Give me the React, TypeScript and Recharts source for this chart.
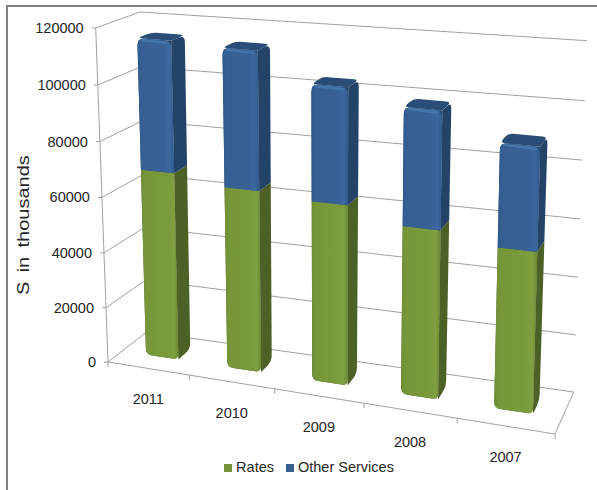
import React from 'react';
import { BarChart, Bar, XAxis, YAxis, CartesianGrid, Legend } from 'recharts';

const years = ['2011', '2010', '2009', '2008', '2007'];
const rates = [68000, 65000, 63500, 58500, 55000];
const otherServices = [47000, 49000, 40500, 40500, 35000];
const valueTicks = [0, 20000, 40000, 60000, 80000, 100000, 120000];

const chartData = years.map((year, i) => ({ year, rates: rates[i], otherServices: otherServices[i] }));

const FONT = '"Liberation Sans", Arial, sans-serif';
const TEXT = '#262626';
const LINE = '#a0a0a0';

// flat plot rectangle that Recharts lays out; everything gets projected from it
const PLOT_LEFT = 108;
const PLOT_TOP = 28;
const PLOT_WIDTH = 447;
const PLOT_HEIGHT = 334;
const PLOT_BOTTOM = PLOT_TOP + PLOT_HEIGHT;

// corners of the 3D box on screen: front/back, left/right, floor/top
const BOX = {
  floor: { fl: [108, 362], fr: [555, 434], bl: [146.7, 332], br: [573.7, 392] },
  top: { fl: [95.7, 28], fr: [565, 67], bl: [140, 12], br: [587, 40.7] },
};
const DEPTH_FRONT = 0.37;
const DEPTH_BACK = 0.7;

const foreshorten = (t: number, k: number) => t / (t + k * (1 - t));
const lerp = (a: number, b: number, t: number) => a + (b - a) * t;

const project = (u: number, v: number, w: number) => {
  const us = foreshorten(u, 1.12);
  const vs = foreshorten(v, 1.03);
  const at = (plane: typeof BOX.floor, axis: 0 | 1) =>
    lerp(lerp(plane.fl[axis], plane.fr[axis], us), lerp(plane.bl[axis], plane.br[axis], us), w);
  return {
    x: lerp(at(BOX.floor, 0), at(BOX.top, 0), vs),
    y: lerp(at(BOX.floor, 1), at(BOX.top, 1), vs),
  };
};

const toU = (x: number) => (x - PLOT_LEFT) / PLOT_WIDTH;
const toV = (y: number) => (PLOT_BOTTOM - y) / PLOT_HEIGHT;

type Pt = { x: number; y: number };

const segment = (a: Pt, b: Pt) => `M${a.x},${a.y}L${b.x},${b.y}`;

// closed polygon with a quadratic round-off of the given radius at each corner
const roundedPath = (points: Pt[], radii: number[]) => {
  const n = points.length;
  let d = '';
  points.forEach((p, i) => {
    const prev = points[(i + n - 1) % n];
    const next = points[(i + 1) % n];
    const toward = (q: Pt, r: number) => {
      const len = Math.hypot(q.x - p.x, q.y - p.y) || 1;
      const rr = Math.min(r, len / 2);
      return { x: p.x + ((q.x - p.x) / len) * rr, y: p.y + ((q.y - p.y) / len) * rr };
    };
    const a = toward(prev, radii[i]);
    const b = toward(next, radii[i]);
    d += `${i === 0 ? 'M' : 'L'}${a.x},${a.y}Q${p.x},${p.y} ${b.x},${b.y}`;
  });
  return d + 'Z';
};

const BarFace = (props: any) => {
  const { x, y, width, height, front, side, cap, rim, isTop, isBottom } = props;
  const uL = toU(x);
  const uR = toU(x + width);
  const vB = toV(y + height);
  const vT = toV(y);
  const rBottom = isBottom ? 6 : 0;
  const rTop = isTop ? 7 : 0;
  const fbl = project(uL, vB, DEPTH_FRONT);
  const fbr = project(uR, vB, DEPTH_FRONT);
  const ftr = project(uR, vT, DEPTH_FRONT);
  const ftl = project(uL, vT, DEPTH_FRONT);
  const bbr = project(uR, vB, DEPTH_BACK);
  const btr = project(uR, vT, DEPTH_BACK);
  const btl = project(uL, vT, DEPTH_BACK);
  return (
    <g>
      {/* dark backing so the rounded front corner reads as a bevel */}
      <path d={roundedPath([fbl, fbr, ftr, ftl], [rBottom, rBottom, 0, rTop])} fill={side} />
      <path d={roundedPath([fbr, bbr, btr, ftr], [0, rBottom, rTop, 0])} fill={side} />
      {isTop && <path d={roundedPath([ftl, ftr, btr, btl], [5, 0, 5, 5])} fill={cap} />}
      <path d={roundedPath([fbl, fbr, ftr, ftl], [rBottom, rBottom, rTop, rTop])} fill={front} />
      {isTop && (
        <path
          d={segment({ x: ftl.x + 5, y: ftl.y + 2 }, { x: ftr.x - 5, y: ftr.y + 2 })}
          stroke={rim}
          strokeWidth={2.5}
          strokeLinecap="round"
        />
      )}
    </g>
  );
};

const RatesBar = (props: any) => (
  <BarFace {...props} front="url(#ratesFront)" side="#4c6126" cap="#5d7a2e" rim="#86a548" isBottom />
);

const OtherBar = (props: any) => (
  <BarFace {...props} front="url(#otherFront)" side="#234369" cap="#2a4d78" rim="#4475ab" isTop />
);

// walls: each gridline runs along the left wall and on across the back wall
const WallLine = (props: any) => {
  const v = toV(props.y1);
  const a = project(0, v, 0);
  const b = project(0, v, 1);
  const c = project(1, v, 1);
  return (
    <path key={props.key} d={`${segment(a, b)}L${c.x},${c.y}`} fill="none" stroke={LINE} strokeWidth={1} />
  );
};

// value axis line and the two open edges of the floor
const BoxEdges = () => (
  <path
    d={[
      segment(project(0, 0, 0), project(0, 1, 0)),
      segment(project(0, 0, 0), project(1, 0, 0)),
      segment(project(1, 0, 0), project(1, 0, 1)),
    ].join('')}
    fill="none"
    stroke={LINE}
    strokeWidth={1}
  />
);

const YearTick = (props: any) => {
  const { x, index, payload } = props;
  const u = toU(x);
  const step = 1 / years.length;
  const label = project(u, 0, 0);
  const mark = project(u + step / 2, 0, 0);
  const first = project(0, 0, 0);
  return (
    <g>
      <path d={segment(mark, { x: mark.x, y: mark.y + 5 })} stroke={LINE} />
      {index === 0 && <path d={segment(first, { x: first.x, y: first.y + 5 })} stroke={LINE} />}
      <text x={label.x} y={label.y + 36} textAnchor="middle" fontFamily={FONT} fontSize={14.5} fill={TEXT}>
        {payload.value}
      </text>
    </g>
  );
};

const ValueTick = (props: any) => {
  const { y, payload } = props;
  const p = project(0, toV(y), 0);
  return (
    <g>
      <path d={segment({ x: p.x - 4, y: p.y }, p)} stroke={LINE} />
      <text x={p.x - 12} y={p.y + 5} textAnchor="end" fontFamily={FONT} fontSize={14.5} fill={TEXT}>
        {payload.value}
      </text>
    </g>
  );
};

const ValueTitle = () => (
  <text
    transform="translate(29,295) rotate(-90) scale(1.25,1)"
    fontFamily={FONT}
    fontSize={16}
    wordSpacing={3}
    fill={TEXT}
  >
    S in thousands
  </text>
);

const App = () => (
  <div style={{ position: 'absolute', left: 0, top: 0, width: 597, height: 490, background: '#fff', overflow: 'hidden' }}>
    <div style={{ position: 'absolute', left: 6, top: 5, right: 0, bottom: 0, borderLeft: '2px solid #808080', borderTop: '2px solid #808080' }} />
    <BarChart
      width={597}
      height={490}
      data={chartData}
      barCategoryGap="30%"
      margin={{ top: PLOT_TOP, right: 597 - PLOT_LEFT - PLOT_WIDTH, bottom: 490 - PLOT_BOTTOM - 30, left: PLOT_LEFT - 60 }}
      style={{ position: 'absolute', left: 0, top: 0 }}
    >
      <defs>
        <linearGradient id="ratesFront" x1="0" y1="0" x2="1" y2="0">
          <stop offset="0" stopColor="#6f8f35" />
          <stop offset="0.12" stopColor="#769639" />
          <stop offset="0.72" stopColor="#7a9b3c" />
          <stop offset="0.88" stopColor="#7f9f40" />
          <stop offset="1" stopColor="#6c8a33" />
        </linearGradient>
        <linearGradient id="otherFront" x1="0" y1="0" x2="1" y2="0">
          <stop offset="0" stopColor="#315b8e" />
          <stop offset="0.12" stopColor="#365f93" />
          <stop offset="0.72" stopColor="#386297" />
          <stop offset="0.88" stopColor="#3c689e" />
          <stop offset="1" stopColor="#315a8c" />
        </linearGradient>
      </defs>
      <CartesianGrid horizontal={WallLine} vertical={false} />
      <BoxEdges />
      <XAxis dataKey="year" height={30} axisLine={false} tickLine={false} tick={YearTick} interval={0} />
      <YAxis
        width={60}
        domain={[0, 120000]}
        ticks={valueTicks}
        interval={0}
        axisLine={false}
        tickLine={false}
        tick={ValueTick}
        label={<ValueTitle />}
      />
      <Legend
        layout="horizontal"
        align="center"
        verticalAlign="middle"
        iconType="square"
        iconSize={8}
        itemSorter={null}
        formatter={(value: string) => (
          <span style={{ color: TEXT, fontFamily: FONT, fontSize: 14.5, marginRight: 2 }}>{value}</span>
        )}
        wrapperStyle={{ top: 458, left: 215, width: 200, transform: 'none' }}
      />
      <Bar dataKey="rates" name="Rates" stackId="total" fill="#769639" shape={RatesBar} isAnimationActive={false} />
      <Bar dataKey="otherServices" name="Other Services" stackId="total" fill="#365f93" shape={OtherBar} isAnimationActive={false} />
    </BarChart>
  </div>
);

export default App;
